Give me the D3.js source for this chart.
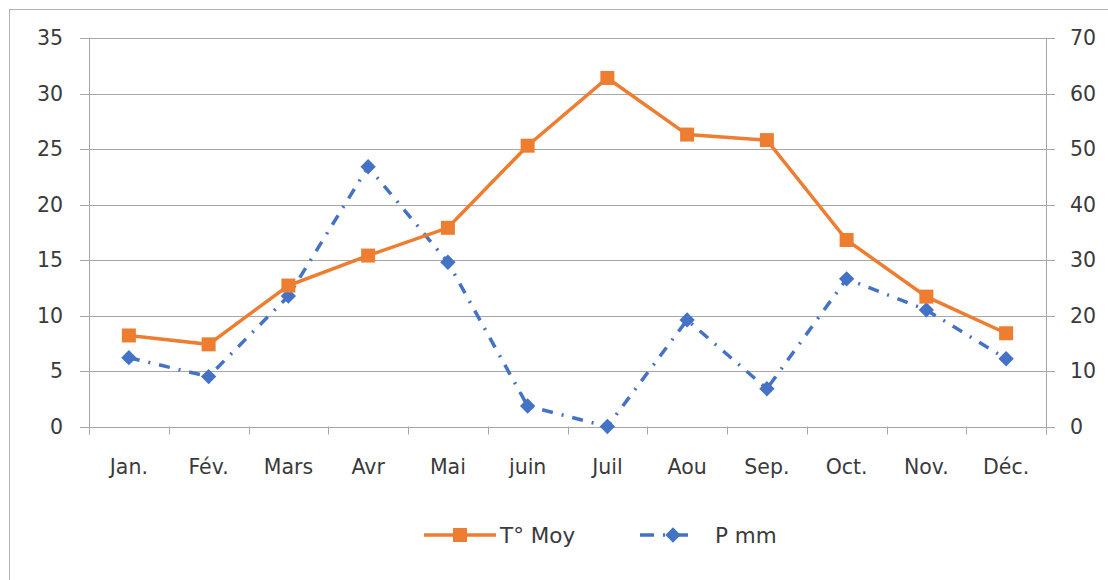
<!DOCTYPE html>
<html>
<head>
<meta charset="utf-8">
<script src="https://cdn.jsdelivr.net/npm/d3@7"></script>
<style>
  body { margin: 0; background: #fff; }
  text { font-family: "DejaVu Sans", sans-serif; fill: #3a3a3a; }
</style>
</head>
<body>
<script>
// données
var months = ["Jan.", "Fév.", "Mars", "Avr", "Mai", "juin", "Juil", "Aou", "Sep.", "Oct.", "Nov.", "Déc."];
var temp = [8.2, 7.4, 12.7, 15.4, 17.9, 25.3, 31.4, 26.3, 25.8, 16.8, 11.7, 8.4];
var precip = [12.4, 9.0, 23.5, 46.8, 29.6, 3.7, 0, 19.2, 6.8, 26.6, 21.0, 12.2];
var leftTicks = [0, 5, 10, 15, 20, 25, 30, 35];
var rightTicks = [0, 10, 20, 30, 40, 50, 60, 70];
var seriesNames = ["T° Moy", "P mm"];

var width = 1108, height = 580;
var plot = {left: 89, right: 1046, top: 38, bottom: 426.5};
var orange = "#ED7D31", blue = "#4472C4", grid = "#A6A6A6";
var fontSize = 20.5;

var svg = d3.select("body").append("svg")
    .attr("width", width)
    .attr("height", height);

// cadre
svg.append("rect")
    .attr("x", 9.5).attr("y", 9.5)
    .attr("width", 1120).attr("height", 600)
    .attr("fill", "none").attr("stroke", "#B0B0B0").attr("stroke-width", 1);

var x = d3.scaleBand().domain(months).range([plot.left, plot.right]);
var yL = d3.scaleLinear().domain([0, 35]).range([plot.bottom, plot.top]);
var yR = d3.scaleLinear().domain([0, 70]).range([plot.bottom, plot.top]);

// grille horizontale (avec débord des graduations)
svg.append("g").selectAll("line")
    .data(leftTicks)
    .enter().append("line")
    .attr("x1", plot.left - 9).attr("x2", plot.right + 9)
    .attr("y1", function(d){ return Math.round(yL(d)) + 0.5; })
    .attr("y2", function(d){ return Math.round(yL(d)) + 0.5; })
    .attr("stroke", grid).attr("stroke-width", 1);

// axes verticaux
[plot.left, plot.right].forEach(function(px){
  svg.append("line")
    .attr("x1", px + 0.5).attr("x2", px + 0.5)
    .attr("y1", plot.top).attr("y2", plot.bottom + 8)
    .attr("stroke", grid);
});

// axe x
var xAxis = d3.axisBottom(x).tickSize(0).tickPadding(32);
var gx = svg.append("g")
    .attr("transform", "translate(0," + (Math.round(plot.bottom) + 0.5) + ")")
    .call(xAxis);
gx.select(".domain").remove();
gx.selectAll("text").attr("font-size", fontSize).attr("fill", "#3a3a3a")
    .style("font-family", "'DejaVu Sans', sans-serif");
// graduations entre catégories
svg.append("g").selectAll("line")
    .data(d3.range(months.length + 1))
    .enter().append("line")
    .attr("x1", function(i){ return Math.round(plot.left + i * x.step()) + 0.5; })
    .attr("x2", function(i){ return Math.round(plot.left + i * x.step()) + 0.5; })
    .attr("y1", plot.bottom).attr("y2", plot.bottom + 8)
    .attr("stroke", grid);

// axe gauche
var gl = svg.append("g")
    .attr("transform", "translate(" + plot.left + ",0)")
    .call(d3.axisLeft(yL).tickValues(leftTicks).tickSize(0).tickPadding(26));
gl.select(".domain").remove();
gl.selectAll("text").attr("font-size", fontSize).attr("fill", "#3a3a3a")
    .style("font-family", "'DejaVu Sans', sans-serif");

// axe droit
var gr = svg.append("g")
    .attr("transform", "translate(" + plot.right + ",0)")
    .call(d3.axisRight(yR).tickValues(rightTicks).tickSize(0).tickPadding(24));
gr.select(".domain").remove();
gr.selectAll("text").attr("font-size", fontSize).attr("fill", "#3a3a3a")
    .style("font-family", "'DejaVu Sans', sans-serif");

function cx(d, i){ return x(months[i]) + x.bandwidth() / 2; }

// précipitations
var linePrecip = d3.line()
    .x(function(d, i){ return cx(d, i); })
    .y(function(d){ return yR(d); });
svg.append("path")
    .datum(precip)
    .attr("d", linePrecip)
    .attr("fill", "none").attr("stroke", blue).attr("stroke-width", 3.5)
    .attr("stroke-dasharray", "11,9,2,9");

var diamond = d3.symbol().type(d3.symbolDiamond2).size(150);
svg.append("g").selectAll("path")
    .data(precip)
    .enter().append("path")
    .attr("d", diamond)
    .attr("transform", function(d, i){ return "translate(" + cx(d, i) + "," + yR(d) + ")"; })
    .attr("fill", blue);

// températures
var lineTemp = d3.line()
    .x(function(d, i){ return cx(d, i); })
    .y(function(d){ return yL(d); });
svg.append("path")
    .datum(temp)
    .attr("d", lineTemp)
    .attr("fill", "none").attr("stroke", orange).attr("stroke-width", 3.5);

svg.append("g").selectAll("rect")
    .data(temp)
    .enter().append("rect")
    .attr("x", function(d, i){ return cx(d, i) - 7; })
    .attr("y", function(d){ return yL(d) - 7; })
    .attr("width", 14).attr("height", 14)
    .attr("fill", orange);

// légende
var leg = svg.append("g").attr("transform", "translate(0,535)");
leg.append("line").attr("x1", 424).attr("x2", 496).attr("y1", 0).attr("y2", 0)
    .attr("stroke", orange).attr("stroke-width", 3.5);
leg.append("rect").attr("x", 453).attr("y", -7).attr("width", 14).attr("height", 14)
    .attr("fill", orange);
leg.append("text").attr("x", 500).attr("y", 8).attr("font-size", 21.5).text(seriesNames[0]);

leg.append("line").attr("x1", 640).attr("x2", 697).attr("y1", 0).attr("y2", 0)
    .attr("stroke", blue).attr("stroke-width", 3.5).attr("stroke-dasharray", "14,9,2,9");
leg.append("path").attr("d", diamond).attr("transform", "translate(673,0)").attr("fill", blue);
leg.append("text").attr("x", 715).attr("y", 8).attr("font-size", 21.5).text(seriesNames[1]);
</script>
</body>
</html>
